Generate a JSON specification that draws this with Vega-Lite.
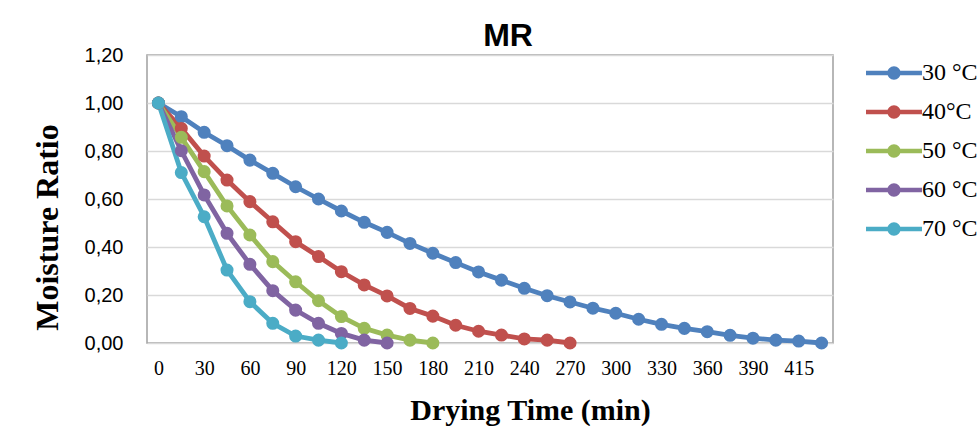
{
  "$schema": "https://vega.github.io/schema/vega-lite/v6.json",
  "width": 686,
  "height": 288,
  "autosize": {"type": "none"},
  "padding": {"left": 147, "top": 55, "right": 145, "bottom": 83},
  "background": "white",
  "config": {"view": {"stroke": "#a0a0a0", "strokeWidth": 1.5}},
  "title": {"text": "MR", "font": "Liberation Sans", "fontSize": 32, "fontWeight": "bold", "color": "#000", "anchor": "middle", "frame": "group", "dx": 18, "dy": 40, "offset": 7, "baseline": "alphabetic"},
  "data": {"values": [
    {"t":"0","s":"30 °C","mr":1.0},{"t":"15","s":"30 °C","mr":0.943},{"t":"30","s":"30 °C","mr":0.878},{"t":"45","s":"30 °C","mr":0.822},{"t":"60","s":"30 °C","mr":0.762},{"t":"75","s":"30 °C","mr":0.707},{"t":"90","s":"30 °C","mr":0.651},{"t":"105","s":"30 °C","mr":0.600},{"t":"120","s":"30 °C","mr":0.550},{"t":"135","s":"30 °C","mr":0.503},{"t":"150","s":"30 °C","mr":0.461},{"t":"165","s":"30 °C","mr":0.415},{"t":"180","s":"30 °C","mr":0.374},{"t":"195","s":"30 °C","mr":0.335},{"t":"210","s":"30 °C","mr":0.296},{"t":"225","s":"30 °C","mr":0.262},{"t":"240","s":"30 °C","mr":0.228},{"t":"255","s":"30 °C","mr":0.197},{"t":"270","s":"30 °C","mr":0.171},{"t":"285","s":"30 °C","mr":0.145},{"t":"300","s":"30 °C","mr":0.124},{"t":"315","s":"30 °C","mr":0.099},{"t":"330","s":"30 °C","mr":0.078},{"t":"345","s":"30 °C","mr":0.061},{"t":"360","s":"30 °C","mr":0.047},{"t":"375","s":"30 °C","mr":0.032},{"t":"390","s":"30 °C","mr":0.020},{"t":"405","s":"30 °C","mr":0.012},{"t":"415","s":"30 °C","mr":0.008},{"t":"425","s":"30 °C","mr":0.0},
    {"t":"0","s":"40°C","mr":1.0},{"t":"15","s":"40°C","mr":0.894},{"t":"30","s":"40°C","mr":0.779},{"t":"45","s":"40°C","mr":0.679},{"t":"60","s":"40°C","mr":0.589},{"t":"75","s":"40°C","mr":0.505},{"t":"90","s":"40°C","mr":0.422},{"t":"105","s":"40°C","mr":0.360},{"t":"120","s":"40°C","mr":0.297},{"t":"135","s":"40°C","mr":0.242},{"t":"150","s":"40°C","mr":0.196},{"t":"165","s":"40°C","mr":0.144},{"t":"180","s":"40°C","mr":0.112},{"t":"195","s":"40°C","mr":0.074},{"t":"210","s":"40°C","mr":0.049},{"t":"225","s":"40°C","mr":0.033},{"t":"240","s":"40°C","mr":0.017},{"t":"255","s":"40°C","mr":0.012},{"t":"270","s":"40°C","mr":0.0},
    {"t":"0","s":"50 °C","mr":1.0},{"t":"15","s":"50 °C","mr":0.857},{"t":"30","s":"50 °C","mr":0.714},{"t":"45","s":"50 °C","mr":0.571},{"t":"60","s":"50 °C","mr":0.450},{"t":"75","s":"50 °C","mr":0.339},{"t":"90","s":"50 °C","mr":0.255},{"t":"105","s":"50 °C","mr":0.176},{"t":"120","s":"50 °C","mr":0.110},{"t":"135","s":"50 °C","mr":0.061},{"t":"150","s":"50 °C","mr":0.033},{"t":"165","s":"50 °C","mr":0.012},{"t":"180","s":"50 °C","mr":0.0},
    {"t":"0","s":"60 °C","mr":1.0},{"t":"15","s":"60 °C","mr":0.801},{"t":"30","s":"60 °C","mr":0.617},{"t":"45","s":"60 °C","mr":0.457},{"t":"60","s":"60 °C","mr":0.328},{"t":"75","s":"60 °C","mr":0.218},{"t":"90","s":"60 °C","mr":0.137},{"t":"105","s":"60 °C","mr":0.082},{"t":"120","s":"60 °C","mr":0.040},{"t":"135","s":"60 °C","mr":0.012},{"t":"150","s":"60 °C","mr":0.0},
    {"t":"0","s":"70 °C","mr":1.0},{"t":"15","s":"70 °C","mr":0.710},{"t":"30","s":"70 °C","mr":0.526},{"t":"45","s":"70 °C","mr":0.304},{"t":"60","s":"70 °C","mr":0.172},{"t":"75","s":"70 °C","mr":0.082},{"t":"90","s":"70 °C","mr":0.029},{"t":"105","s":"70 °C","mr":0.012},{"t":"120","s":"70 °C","mr":0.0}
  ]},
  "encoding": {
    "x": {
      "field": "t", "type": "ordinal",
      "scale": {"type": "point", "padding": 0.5, "domain": ["0","15","30","45","60","75","90","105","120","135","150","165","180","195","210","225","240","255","270","285","300","315","330","345","360","375","390","405","415","425"]},
      "axis": {"values": ["0","30","60","90","120","150","180","210","240","270","300","330","360","390","415"], "labelAngle": 0, "labelFont": "Liberation Serif", "labelFontSize": 20, "labelColor": "#000", "labelPadding": 15, "ticks": false, "domain": false, "grid": false, "title": "Drying Time (min)", "titleFont": "Liberation Serif", "titleFontSize": 30, "titleFontWeight": "bold", "titleColor": "#000", "titleX": 383, "titleY": 76, "titleBaseline": "alphabetic", "titleAlign": "center"}
    },
    "y": {
      "field": "mr", "type": "quantitative",
      "scale": {"domain": [0, 1.2], "nice": false, "zero": true},
      "axis": {"values": [0, 0.2, 0.4, 0.6, 0.8, 1.0, 1.2], "labelExpr": "replace(format(datum.value, '.2f'), '.', ',')", "labelFont": "Liberation Sans", "labelFontSize": 20, "labelColor": "#000", "labelPadding": 24, "ticks": false, "domain": false, "grid": true, "gridColor": "#d9d9d9", "gridWidth": 1.3, "title": "Moisture Ratio", "titleFont": "Liberation Serif", "titleFontSize": 32, "titleFontWeight": "bold", "titleColor": "#000", "titleX": -90, "titleY": 172, "titleBaseline": "alphabetic", "titleAlign": "center", "titleAngle": -90}
    },
    "color": {
      "field": "s", "type": "nominal",
      "scale": {"domain": ["30 °C","40°C","50 °C","60 °C","70 °C"], "range": ["#4F81BD","#C0504D","#9BBB59","#8064A2","#4BACC6"]},
      "legend": {"orient": "none", "legendX": 735, "legendY": 6, "title": null, "padding": 0,
        "symbolType": "M-4,-0.32H4V0.32H-4Z M-0.95,0A0.95,0.95 0 1,1 0.95,0A0.95,0.95 0 1,1 -0.95,0Z",
        "symbolSize": 196, "symbolStrokeWidth": 0, "symbolOpacity": 1,
        "labelFont": "Liberation Serif", "labelFontSize": 24, "labelColor": "#000", "labelOffset": 16, "rowPadding": 15,
        "encode": {"symbols": {"update": {"fill": {"scale": "color", "field": "value"}, "strokeWidth": {"value": 0}, "opacity": {"value": 1}}}}}
    }
  },
  "layer": [
    {"mark": {"type": "line", "strokeWidth": 4.8}},
    {"mark": {"type": "point", "filled": true, "size": 170, "opacity": 1}}
  ]
}
